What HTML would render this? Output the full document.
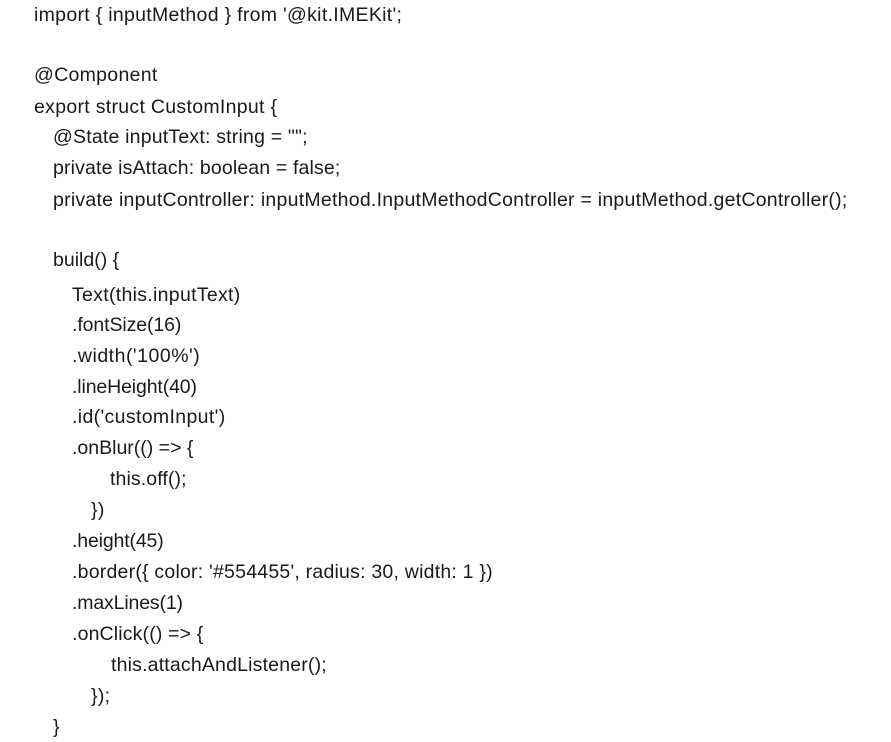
<!DOCTYPE html>
<html><head><meta charset="utf-8"><style>
html,body{margin:0;padding:0;background:#fff;}
body{width:891px;height:742px;position:relative;overflow:hidden;font-family:"Liberation Sans",Arial,sans-serif;font-size:19.5px;letter-spacing:0.3px;color:#1a1a1a;}
.l{position:absolute;white-space:pre;line-height:20px;}
</style></head><body>
<div class="l" style="left:34px;top:5px">import { inputMethod } from '@kit.IMEKit';</div>
<div class="l" style="left:34px;top:65px">@Component</div>
<div class="l" style="left:34px;top:97px">export struct CustomInput {</div>
<div class="l" style="left:53px;top:127px;letter-spacing:0.2px">@State inputText: string = "";</div>
<div class="l" style="left:53px;top:158px;letter-spacing:0.15px">private isAttach: boolean = false;</div>
<div class="l" style="left:53px;top:190px;letter-spacing:0.25px">private inputController: inputMethod.InputMethodController = inputMethod.getController();</div>
<div class="l" style="left:53px;top:250px;letter-spacing:0px">build() {</div>
<div class="l" style="left:72px;top:285px">Text(this.inputText)</div>
<div class="l" style="left:72px;top:315px;letter-spacing:-0.1px">.fontSize(16)</div>
<div class="l" style="left:72px;top:346px;letter-spacing:0.5px">.width('100%')</div>
<div class="l" style="left:72px;top:377px;letter-spacing:-0.13px">.lineHeight(40)</div>
<div class="l" style="left:72px;top:407px;letter-spacing:0.35px">.id('customInput')</div>
<div class="l" style="left:72px;top:438px;letter-spacing:0px">.onBlur(() =&gt; {</div>
<div class="l" style="left:110px;top:469px;letter-spacing:0.1px">this.off();</div>
<div class="l" style="left:91px;top:500px">})</div>
<div class="l" style="left:72px;top:531px;letter-spacing:-0.15px">.height(45)</div>
<div class="l" style="left:72px;top:562px;letter-spacing:0.22px">.border({ color: '#554455', radius: 30, width: 1 })</div>
<div class="l" style="left:72px;top:593px;letter-spacing:-0.15px">.maxLines(1)</div>
<div class="l" style="left:72px;top:624px;letter-spacing:0.15px">.onClick(() =&gt; {</div>
<div class="l" style="left:111px;top:655px;letter-spacing:0.18px">this.attachAndListener();</div>
<div class="l" style="left:91px;top:686px">});</div>
<div class="l" style="left:53px;top:717px">}</div>
</body></html>
